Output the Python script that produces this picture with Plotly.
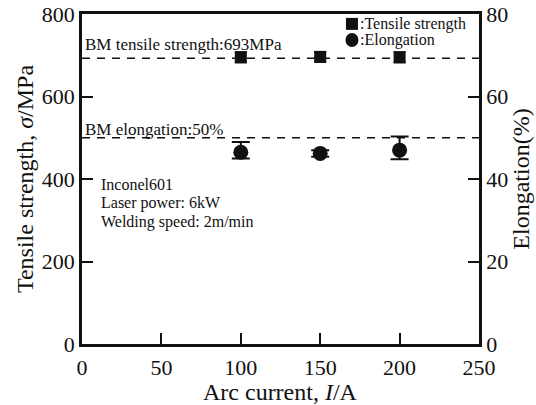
import plotly.graph_objects as go

# Arc current (A)
current = [100, 150, 200]

# Joint tensile strength (MPa) and scatter
tensile = [695, 696, 695]
tensile_err = [12, 12, 12]

# Elongation (%) and scatter (upper / lower)
elong = [46.5, 46.2, 47.0]
elong_err_plus = [2.5, 0.8, 3.3]
elong_err_minus = [1.5, 0.8, 2.2]

# Base-metal reference values
bm_tensile = 693
bm_elong = 50

x_ticks = [0, 50, 100, 150, 200, 250]
y_ticks = [0, 200, 400, 600, 800]
y2_ticks = [0, 20, 40, 60, 80]

SERIF = "Liberation Serif"
INK = "#111111"

fig = go.Figure()

fig.add_trace(go.Scatter(
    x=current, y=tensile, mode="markers",
    marker=dict(symbol="square", size=12, color=INK),
    error_y=dict(type="data", array=tensile_err, color=INK, thickness=2, width=6),
    showlegend=False,
))

fig.add_trace(go.Scatter(
    x=current, y=elong, mode="markers", yaxis="y2",
    marker=dict(symbol="circle", size=15, color=INK),
    error_y=dict(type="data", array=elong_err_plus, arrayminus=elong_err_minus,
                 color=INK, thickness=2, width=9),
    showlegend=False,
))

# Base-metal reference lines
for yv in (bm_tensile, bm_elong * 10):
    fig.add_shape(type="line", xref="paper", x0=0, x1=1, yref="y", y0=yv, y1=yv,
                  line=dict(color=INK, width=1.5, dash="8px,7px"), layer="below")

ann_font = dict(family=SERIF, size=17, color=INK)
fig.add_annotation(x=0.005, y=bm_tensile, xref="paper", yref="y", yshift=3,
                   text=f"BM tensile strength:{bm_tensile}MPa", showarrow=False,
                   xanchor="left", yanchor="bottom", font=ann_font, borderpad=0)
fig.add_annotation(x=0.005, y=bm_elong * 10, xref="paper", yref="y", yshift=-2,
                   text=f"BM elongation:{bm_elong}%", showarrow=False,
                   xanchor="left", yanchor="bottom", font=ann_font, borderpad=0)

# Process conditions
for i, line in enumerate(["Inconel601", "Laser power: 6kW", "Welding speed: 2m/min"]):
    fig.add_annotation(x=0.045, y=0.484 - i * 0.057, xref="paper", yref="paper",
                       text=line, showarrow=False, xanchor="left", yanchor="middle",
                       font=dict(family=SERIF, size=16, color=INK), borderpad=0)

# Key for the two series: filled symbols followed by labels
key_x = 0.68
key_rows = [(0.970, "rect", ":Tensile strength"), (0.921, "circle", ":Elongation")]
for ytop, kind, label in key_rows:
    half_w = 6.5 if kind == "circle" else 6
    half_h = 7 if kind == "circle" else 6
    fig.add_shape(type=kind, xref="paper", yref="paper",
                  xsizemode="pixel", ysizemode="pixel",
                  xanchor=key_x, yanchor=ytop,
                  x0=-half_w, x1=half_w, y0=-half_h, y1=half_h,
                  fillcolor=INK, line=dict(width=0))
    fig.add_annotation(x=key_x + 0.018, y=ytop, xref="paper", yref="paper",
                       text=label, showarrow=False,
                       xanchor="left", yanchor="middle",
                       font=dict(family=SERIF, size=16, color=INK), borderpad=0)

tick_font = dict(family=SERIF, size=22, color=INK)
title_font = dict(family=SERIF, size=24, color=INK)

# x-axis title placed below the tick labels
fig.add_annotation(x=0.5, y=-0.146, xref="paper", yref="paper",
                   text="Arc current, <i>I</i>/A", showarrow=False,
                   xanchor="center", yanchor="middle", font=title_font, borderpad=0)

fig.update_layout(
    width=536, height=405,
    margin=dict(l=82, r=57, t=14, b=61),
    paper_bgcolor="white", plot_bgcolor="white",
    xaxis=dict(
        range=[0, 250], tickvals=x_ticks, ticks="inside", ticklen=11, tickwidth=2,
        tickcolor=INK, showline=True, linewidth=2.5, linecolor=INK, mirror=True,
        showgrid=False, zeroline=False, tickfont=tick_font, ticklabelstandoff=2,
        automargin=False,
    ),
    yaxis=dict(
        range=[0, 800], tickvals=y_ticks, ticks="inside", ticklen=11, tickwidth=2,
        tickcolor=INK, showline=True, linewidth=2.5, linecolor=INK,
        showgrid=False, zeroline=False, tickfont=tick_font, automargin=False,
        title=dict(text="Tensile strength, <i>σ</i>/MPa", font=title_font, standoff=2),
    ),
    yaxis2=dict(
        range=[0, 80], tickvals=y2_ticks, overlaying="y", side="right",
        ticks="inside", ticklen=11, tickwidth=2, tickcolor=INK,
        showline=True, linewidth=2.5, linecolor=INK, automargin=False,
        showgrid=False, zeroline=False, tickfont=tick_font,
        title=dict(text="Elongation(%)", font=title_font, standoff=2),
    ),
)

fig.write_html("out.html")
